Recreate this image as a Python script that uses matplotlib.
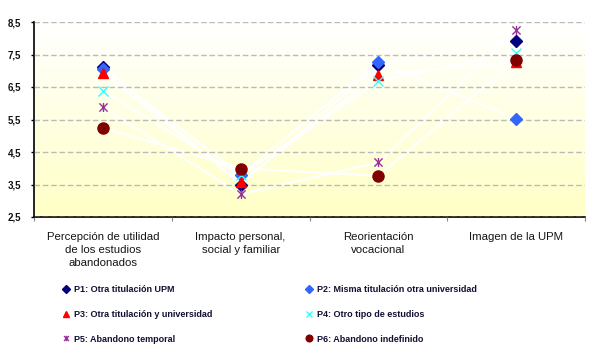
import matplotlib
matplotlib.use("Agg")
import matplotlib.pyplot as plt
import numpy as np
from matplotlib.path import Path
from matplotlib.lines import Line2D
from matplotlib.ticker import FuncFormatter, FixedLocator
from matplotlib.colors import LinearSegmentedColormap

categories = ["Percepción de utilidad\nde los estudios\nabandonados",
              "Impacto personal,\nsocial y familiar",
              "Reorientación\nvocacional",
              "Imagen de la UPM"]
series_names = ["P1: Otra titulación UPM",
                "P2: Misma titulación otra universidad",
                "P3: Otra titulación y universidad",
                "P4: Otro tipo de estudios",
                "P5: Abandono temporal",
                "P6: Abandono indefinido"]
p1 = [7.12, 3.50, 7.19, 7.92]
p2 = [7.05, 3.80, 7.26, 5.53]
p3 = [6.93, 3.57, 6.88, 7.27]
p4 = [6.38, 3.78, 6.68, 7.56]
p5 = [5.88, 3.20, 4.18, 8.26]
p6 = [5.25, 3.99, 3.77, 7.33]
values = [p1, p2, p3, p4, p5, p6]
yticks = [2.5, 3.5, 4.5, 5.5, 6.5, 7.5, 8.5]

base = ["Liberation Sans", "DejaVu Sans"]

# star marker: X plus short vertical line
star = Path([(-1, -1), (1, 1), (-1, 1), (1, -1), (0, -1.1), (0, 1.1)],
            [Path.MOVETO, Path.LINETO, Path.MOVETO, Path.LINETO, Path.MOVETO, Path.LINETO])

styles = [
    dict(marker="D", color="#000080", ms=6.5, mec="#000080"),
    dict(marker="D", color="#3366FF", ms=6.5, mec="#3366FF"),
    dict(marker="^", color="#FF0000", ms=7.5, mec="#FF0000"),
    dict(marker="x", color="#33FFFF", ms=6.5, mew=1.0),
    dict(marker=star, color="#993399", ms=6.5, mew=1.0),
    dict(marker="o", color="#800000", ms=8, mec="#800000"),
]

fig = plt.figure(figsize=(6.05, 3.53), dpi=100)
ax = fig.add_axes([34/605, 1-217/353, (585-34)/605, (217-22)/353])

x = np.arange(1, len(categories) + 1)
ax.set_xlim(0.5, len(categories) + 0.5)
ax.set_ylim(2.5, 8.5)

# gradient background
grad = np.linspace(0, 1, 256).reshape(-1, 1)
cmap = LinearSegmentedColormap.from_list("bg", ["#FFFFC6", "#FFFFFF"])
ax.imshow(grad, cmap=cmap, aspect="auto", extent=[0.5, len(categories) + 0.5, 2.5, 8.5],
          origin="lower", zorder=0)

for v in values:
    ax.plot(x, v, color="white", lw=1.5, zorder=2)
for v, st, name in zip(values, styles, series_names):
    ax.plot(x, v, linestyle="none", zorder=3, label=name, **st)

ax.set_yticks(yticks)
ax.yaxis.set_major_formatter(FuncFormatter(lambda y, p: f"{y:.1f}".replace(".", ",")))
ax.grid(axis="y", color="#BBBBBB", linestyle=(0, (4, 2)), lw=1.0, zorder=1)
ax.set_axisbelow(False)
for lab in ax.get_yticklabels():
    lab.set_fontfamily(base)
    lab.set_fontweight("bold")
    lab.set_fontsize(7)
    lab.set_color("#111111")
ax.tick_params(axis="y", length=2, width=1, pad=7)

ax.xaxis.set_major_locator(FixedLocator(np.arange(0.5, len(categories) + 1, 1)))
ax.set_xticklabels([])
ax.xaxis.set_minor_locator(FixedLocator(x))
ax.set_xticklabels(categories, minor=True)
ax.tick_params(axis="x", which="major", length=3, color="#888888")
ax.tick_params(axis="x", which="minor", length=0, pad=11)
for lab in ax.get_xticklabels(minor=True):
    lab.set_fontfamily(base)
    lab.set_fontsize(8.2)
    lab.set_color("#151515")
    lab.set_linespacing(1.38)

for s in ["top", "right"]:
    ax.spines[s].set_visible(False)
ax.spines["left"].set_linewidth(1.2)
ax.spines["bottom"].set_linewidth(1.2)

order = [0, 2, 4, 1, 3, 5]
hl = []
for i in order:
    st = dict(styles[i])
    st["ms"] = st["ms"] * 0.6
    hl.append(Line2D([], [], linestyle="none", **st))
leg = fig.legend(hl, [series_names[i] for i in order], ncol=2, loc="upper left",
                 bbox_to_anchor=(61/605, 1-285/353), frameon=False,
                 prop=dict(family=base, weight="bold", size=6.5),
                 handletextpad=0.4, columnspacing=10.2, labelspacing=1.75,
                 handlelength=1.0, borderpad=0, borderaxespad=0)
for t in leg.get_texts():
    t.set_color("#111133")

fig.savefig("out.png", dpi=100)
